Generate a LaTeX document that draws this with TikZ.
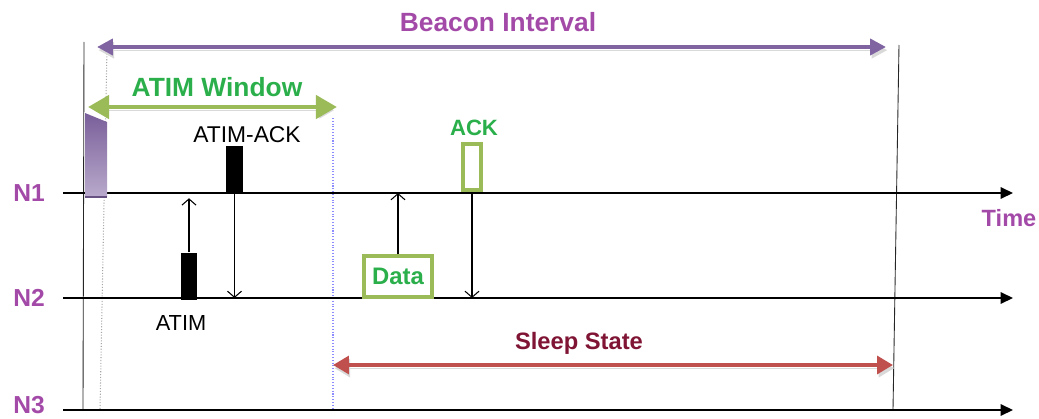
\documentclass[tikz,border=0pt]{standalone}
\usepackage{fontspec}
\setmainfont{Liberation Sans}
\usetikzlibrary{arrows.meta,positioning}

\definecolor{nodepurple}{HTML}{A34AA8}
\definecolor{beaconpurple}{HTML}{8064A2}
\definecolor{windowgreen}{HTML}{9BBB59}
\definecolor{textgreen}{HTML}{2AAF4B}
\definecolor{sleepred}{HTML}{C0504D}
\definecolor{sleeptext}{HTML}{7F1434}

\begin{document}
\begin{tikzpicture}[x=0.02cm,y=-0.02cm,
	timeline/.style={line width=0.8pt,-{Triangle[length=7pt,width=6.5pt]}},
	msg/.style={line width=0.6pt,-{Straight Barb[length=3.5pt,width=8pt]}},
	nlabel/.style={font=\fontsize{14}{16}\selectfont\bfseries,text=nodepurple},
	framebox/.style={draw=windowgreen,line width=2pt,fill=white,inner sep=0pt},
	blackbox/.style={fill=black,inner sep=0pt,minimum width=0.34cm,minimum height=0.94cm},
	shadowed/.style={preaction={draw=black!15,transform canvas={shift={(0.8pt,-1.8pt)}}}}]
	\useasboundingbox (0,0) rectangle (1039,419);

	% frame of the beacon interval
	\draw[black!85,line width=0.5pt] (84,42) -- (83,410);
	\draw[black!85,line width=0.5pt] (899,45) -- (893,410);
	\draw[black!35,densely dotted,line width=0.6pt] (107,48) -- (100,410);
	\draw[blue!45,densely dotted,line width=0.6pt] (333,118) -- (333,410);

	% the three nodes
	\foreach \n/\y in {1/193,2/298,3/410} {
		\coordinate (t\n) at (63,\y);
		\coordinate (e\n) at (1013,\y);
		\draw[timeline] (t\n) -- (e\n);
	}
	\node[nlabel] (lab1) at (29,193) {N1};
	\node[nlabel] (lab2) at (29,298) {N2};
	\node[nlabel] (lab3) at (29,405) {N3};
	\node[font=\fontsize{13.4}{15}\selectfont\bfseries,text=nodepurple] (time) at (1009,218) {Time};

	% beacon
	\shade[top color=beaconpurple!95!black,bottom color=beaconpurple!55] (85,113) -- (107,122) -- (107,197) -- (85,197) -- cycle;
	\draw[beaconpurple!80!black,line width=1pt] (85,197) -- (107,197);

	% spans
	\coordinate (bs) at (97,47);
	\coordinate (be) at (886,47);
	\draw[shadowed,beaconpurple,line width=2.3pt,{Triangle[length=9pt,width=9pt]}-{Triangle[length=9pt,width=9pt]}] (bs) -- (be);
	\node[font=\fontsize{15}{18}\selectfont\bfseries,text=nodepurple] (beacon) at (498,22) {Beacon Interval};

	\coordinate (ws) at (88,107);
	\coordinate (we) at (337,107);
	\draw[white,line width=6pt] (ws) -- (we);
	\draw[shadowed,windowgreen,line width=2.8pt,{Triangle[length=12pt,width=13pt]}-{Triangle[length=12pt,width=13pt]}] (ws) -- (we);
	\node[font=\fontsize{15}{18}\selectfont\bfseries,text=textgreen] (window) at (217,87) {ATIM Window};

	\coordinate (ss) at (333,365);
	\coordinate (se) at (893,365);
	\draw[shadowed,sleepred,line width=2.4pt,{Triangle[length=9pt,width=10pt]}-{Triangle[length=9pt,width=10pt]}] (ss) -- (se);
	\node[font=\fontsize{13.5}{16}\selectfont\bfseries,text=sleeptext] (sleep) at (579,343) {Sleep State};

	% ATIM exchange
	\node[blackbox,anchor=south] (atim) at (189,300) {};
	\node[font=\fontsize{12.4}{14}\selectfont] (atimlab) at (181,323) {ATIM};
	\node[blackbox,anchor=south] (atimack) at (234.5,193) {};
	\node[font=\fontsize{13}{15}\selectfont] (atimacklab) at (247,135) {ATIM-ACK};
	\draw[msg] (atim.north) -- ([yshift=-3pt]atim.north |- t1);
	\draw[msg] (atimack.south) -- (atimack.south |- t2);

	% data exchange
	\node[framebox,minimum width=1.36cm,minimum height=0.82cm,anchor=south,
		font=\fontsize{13.6}{15}\selectfont\bfseries,text=textgreen] (data) at (398,299) {Data};
	\node[framebox,minimum width=0.36cm,minimum height=0.92cm,anchor=south] (ack) at (472,192) {};
	\node[font=\fontsize{12.6}{14}\selectfont\bfseries,text=textgreen] (acklab) at (474,128) {ACK};
	\draw[msg] (data.north) -- (data.north |- t1);
	\draw[msg] (ack.south) -- (ack.south |- t2);
\end{tikzpicture}
\end{document}
